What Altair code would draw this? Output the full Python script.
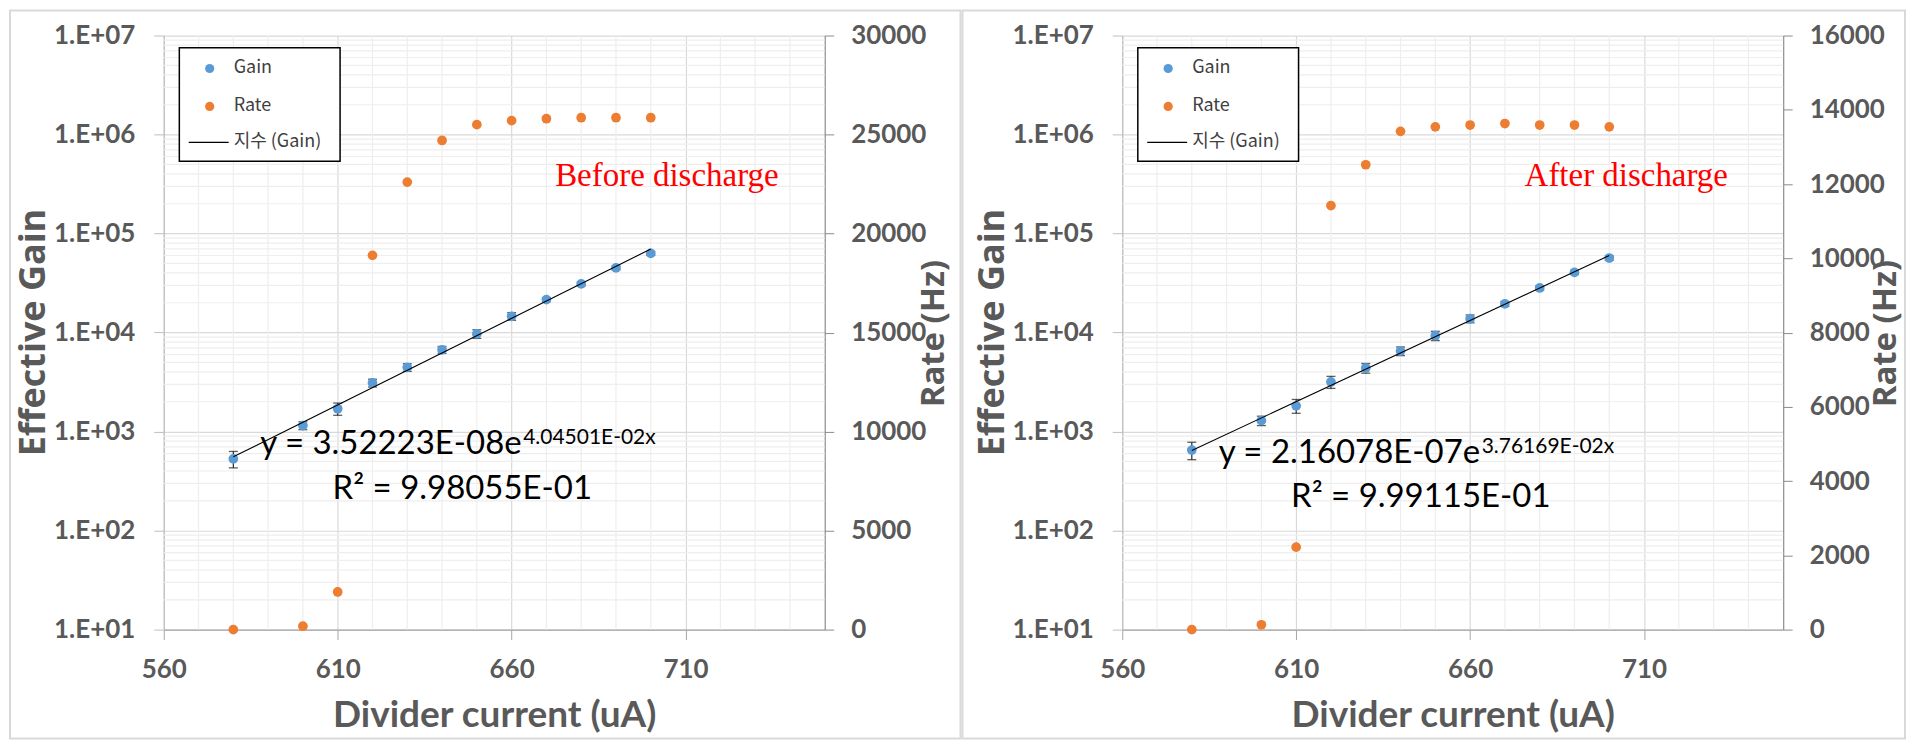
import json
import altair as alt
import pandas as pd

# ---------------- data ----------------
current = [580, 600, 610, 620, 630, 640, 650, 660, 670, 680, 690, 700]

gain_before = [530, 1150, 1700, 3100, 4450, 6700, 9700, 14600, 21500, 31000, 45000, 63000]
gain_before_err = [100, 105, 240, 280, 400, 540, 970, 1300, 970, 1400, 2000, 2800]
rate_before = [0, 170, 1900, 18900, 22600, 24700, 25500, 25700, 25800, 25850, 25850, 25850]

gain_after = [650, 1290, 1820, 3170, 4380, 6500, 9300, 13800, 19500, 28200, 40600, 56600]
gain_after_err = [130, 140, 290, 440, 490, 650, 1000, 1250, 1100, 1400, 2000, 2800]
rate_after = [0, 130, 2220, 11420, 12520, 13420, 13540, 13590, 13630, 13590, 13590, 13540]

rate_max = [30000, 16000]
rate_step = [5000, 2000]

notes = ["Before discharge", "After discharge"]
eq_main = ["y = 3.52223E-08e", "y = 2.16078E-07e"]
eq_sup = ["4.04501E-02x", "3.76169E-02x"]
r2_text = ["R² = 9.98055E-01", "R² = 9.99115E-01"]
legend_labels = ["Gain", "Rate", "지수 (Gain)"]

x_title = "Divider current (uA)"
y_title = "Effective Gain"
y2_title = "Rate (Hz)"

x_domain = [560, 750]
x_major = [560, 610, 660, 710]
x_grid_step = 10
gain_domain = [10, 10000000]
gain_tick_values = [10, 100, 1000, 10000, 100000, 1000000, 10000000]
gain_tick_labels = ["1.E+01", "1.E+02", "1.E+03", "1.E+04", "1.E+05", "1.E+06", "1.E+07"]

# ---------------- style ----------------
BLUE = "#5B9BD5"
ORANGE = "#ED7D31"
TXT = "#595959"
MINOR = "#eeeeee"
MAJOR = "#d9d9d9"
W, H = 662, 595

gain_minor = [k * d for d in gain_tick_values[:-1] for k in range(2, 10)]
x_minor = [v for v in range(x_domain[0], x_domain[1] + 1, x_grid_step) if v not in x_major and v != x_domain[1]]

gv = json.dumps(gain_tick_values)
gl = json.dumps(gain_tick_labels)


def one(val):
    return alt.Chart(pd.DataFrame({"t": [val]}))


def panel(idx, gain, err, rate, pos):
    df = pd.DataFrame({"current": current, "gain": gain, "err": err, "rate": rate})
    base = alt.Chart(df)

    xsc = alt.Scale(domain=x_domain, nice=False, zero=False)
    ysc = alt.Scale(type="log", domain=gain_domain, nice=False)

    xax = alt.Axis(
        values=x_major,
        format="d",
        grid=True,
        gridColor=MAJOR,
        gridWidth=1.2,
        tickColor="#a6a6a6",
        tickSize=10,
        domainColor="#a6a6a6",
        domainWidth=1.2,
        labelFont="Lato",
        labelFontSize=26,
        labelFontWeight="bold",
        labelColor=TXT,
        labelPadding=17,
        labelFlush=False,
        labelOverlap=False,
        title=x_title,
        titleFont="Lato",
        titleFontSize=37,
        titleFontWeight="bold",
        titleColor=TXT,
        titleX=W / 2,
        titleY=86,
        titleAlign="center",
        titleBaseline="middle",
    )
    yax = alt.Axis(
        orient="left",
        values=gain_tick_values,
        labelExpr=f"{gl}[indexof({gv}, datum.value)]",
        grid=True,
        gridColor=MAJOR,
        gridWidth=1.2,
        tickColor="#bfbfbf",
        tickSize=10,
        domainColor="#bfbfbf",
        domainWidth=1.2,
        labelFont="Lato",
        labelFontSize=26,
        labelFontWeight="bold",
        labelColor=TXT,
        labelPadding=19,
        labelFlush=False,
        labelOverlap=False,
        title=y_title,
        titleFont="Open Sans",
        titleFontSize=36,
        titleFontWeight="bold",
        titleColor=TXT,
        titleAngle=270,
        titleX=-130,
        titleY=297,
        titleAlign="center",
        titleBaseline="middle",
    )
    y2ax = alt.Axis(
        orient="right",
        values=list(range(0, rate_max[idx] + 1, rate_step[idx])),
        format="d",
        grid=False,
        tickColor="#8c8c8c",
        tickSize=9,
        domainColor="#8c8c8c",
        domainWidth=1.2,
        labelFont="Lato",
        labelFontSize=26,
        labelFontWeight="bold",
        labelColor=TXT,
        labelPadding=17,
        labelFlush=False,
        labelOverlap=False,
        title=y2_title,
        titleFont="Open Sans",
        titleFontSize=33,
        titleFontWeight="bold",
        titleColor=TXT,
        titleAngle=270,
        titleX=pos["t2x"],
        titleY=298,
        titleAlign="center",
        titleBaseline="middle",
    )

    # the same axis definition on every layer that shares x, so that they merge
    x_enc = alt.X("current:Q", scale=xsc, axis=xax)

    border = one(0).mark_rect(fillOpacity=0, stroke="#d9d9d9", strokeWidth=2).encode(
        x=alt.value(pos["bx0"]), x2=alt.value(pos["bx1"]), y=alt.value(-25), y2=alt.value(704)
    )
    xgrid = alt.Chart(pd.DataFrame({"current": x_minor})).mark_rule(color=MINOR, strokeWidth=1.2).encode(
        x=x_enc
    )
    ygrid = alt.Chart(pd.DataFrame({"v": gain_minor})).mark_rule(color=MINOR, strokeWidth=1.2).encode(
        y=alt.Y("v:Q", scale=ysc, axis=None)
    )

    bars = base.transform_calculate(
        lo="datum.gain - datum.err", hi="datum.gain + datum.err"
    ).mark_rule(color="#1a1a1a", strokeWidth=1.1).encode(
        x=x_enc, y=alt.Y("lo:Q", scale=ysc, axis=None), y2="hi:Q"
    )
    caps = base.transform_calculate(
        lo="datum.gain - datum.err", hi="datum.gain + datum.err"
    ).transform_fold(["lo", "hi"], as_=["end", "val"]).mark_tick(
        orient="horizontal", size=9, thickness=1.3, color="#1a1a1a"
    ).encode(x=x_enc, y=alt.Y("val:Q", scale=ysc, axis=None))
    pts = base.mark_circle(size=95, opacity=1, color=BLUE).encode(
        x=x_enc, y=alt.Y("gain:Q", scale=ysc, axis=yax)
    )
    trend = base.transform_calculate(lg="log(datum.gain)").transform_regression(
        "current", "lg", method="linear"
    ).transform_calculate(fit="exp(datum.lg)").mark_line(color="#000000", strokeWidth=1.1).encode(
        x=x_enc, y=alt.Y("fit:Q", scale=ysc, axis=None)
    )
    ratep = base.mark_circle(size=95, opacity=1, color=ORANGE).encode(
        x=x_enc,
        y=alt.Y("rate:Q", scale=alt.Scale(domain=[0, rate_max[idx]], nice=False, zero=True), axis=y2ax),
    )

    eq1 = one(eq_main[idx]).mark_text(align="right", baseline="alphabetic", font="Lato", fontSize=33, color="#000000").encode(
        x=alt.value(358.5), y=alt.value(pos["eqy"]), text="t:N"
    )
    eq2 = one(eq_sup[idx]).mark_text(align="left", baseline="alphabetic", font="Lato", fontSize=21, color="#000000").encode(
        x=alt.value(360), y=alt.value(pos["eqy"] - 10), text="t:N"
    )
    r2 = one(r2_text[idx]).mark_text(align="center", baseline="alphabetic", font="Lato", fontSize=33, color="#000000").encode(
        x=alt.value(299), y=alt.value(pos["r2y"]), text="t:N"
    )
    note = one(notes[idx]).mark_text(align="left", baseline="alphabetic", font="Liberation Serif", fontSize=33, color="#FF0000").encode(
        x=alt.value(pos["nx"]), y=alt.value(151), text="t:N"
    )

    lbox = one(0).mark_rect(fill="white", stroke="#000000", strokeWidth=1.5).encode(
        x=alt.value(15.6), x2=alt.value(176.6), y=alt.value(12.3), y2=alt.value(125.9)
    )
    ldot1 = one(0).mark_circle(size=85, opacity=1, color=BLUE).encode(x=alt.value(46), y=alt.value(33))
    ldot2 = one(0).mark_circle(size=85, opacity=1, color=ORANGE).encode(x=alt.value(46), y=alt.value(71))
    lline = one(0).mark_rule(color="#000000", strokeWidth=1.3).encode(
        x=alt.value(25), x2=alt.value(65), y=alt.value(107)
    )
    ltexts = [
        one(legend_labels[k]).mark_text(align="left", baseline="middle", font="Noto Sans CJK KR", fontSize=18, color="#404040").encode(
            x=alt.value(70), y=alt.value(yy), text="t:N"
        )
        for k, yy in enumerate([33, 71, 107])
    ]

    return alt.layer(
        border, xgrid, ygrid, bars, caps, pts, trend, ratep,
        eq1, eq2, r2, note, lbox, ldot1, ldot2, lline, *ltexts
    ).resolve_scale(y="independent").properties(width=W, height=H)


left = panel(0, gain_before, gain_before_err, rate_before,
             {"bx0": -154, "bx1": 798, "t2x": 109, "eqy": 419, "r2y": 464.6, "nx": 392})
right = panel(1, gain_after, gain_after_err, rate_after,
              {"bx0": -160, "bx1": 784, "t2x": 102, "eqy": 428.5, "r2y": 472.7, "nx": 403})

chart = alt.hconcat(left, right, spacing=298, bounds="flush", padding=0, background="white").configure_view(
    stroke="transparent"
)

chart.save("out.html", embed_options={"renderer": "svg", "actions": False})
